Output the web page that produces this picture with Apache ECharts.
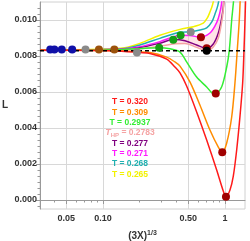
<!DOCTYPE html>
<html><head><meta charset="utf-8">
<script src="https://cdn.jsdelivr.net/npm/echarts@6/dist/echarts.min.js"></script>
<style>html,body{margin:0;padding:0;background:#fff}#c{width:250px;height:241px}</style>
</head><body><div id="c"></div>
<script>
// ---- tick labels ----
const xTickValues = [0.05, 0.1, 0.5, 1];
const xMinorTicks = [0.04, 0.06, 0.07, 0.08, 0.09, 0.2, 0.3, 0.4, 0.6, 0.7, 0.8, 0.9];
const yTickValues = [0, 0.002, 0.004, 0.006, 0.008, 0.010];
const legendTemps = ['0.320', '0.309', '0.2937', '0.2783', '0.277', '0.271', '0.268', '0.265'];

// ---- curves [ (3X)^(1/3), L ] ----
const curveT320 = [[0.0305,0.00832],[0.0945,0.00830],[0.151,0.00825],[0.201,0.00819],[0.243,0.00814],[0.333,0.00783],[0.389,0.00739],[0.428,0.00706],[0.485,0.00633],[0.586,0.00489],[0.708,0.00333],[0.855,0.00167],[0.968,0.00050],[1.019,0.00018],[1.099,0.00056],[1.17,0.00133],[1.247,0.00278],[1.328,0.00467],[1.396,0.0065],[1.432,0.00833],[1.459,0.0100],[1.48,0.0115]];
const curveT309 = [[0.0305,0.00832],[0.0945,0.00831],[0.151,0.00828],[0.243,0.00819],[0.333,0.00794],[0.389,0.00767],[0.428,0.00744],[0.516,0.00656],[0.623,0.00528],[0.753,0.00389],[0.882,0.00294],[0.95,0.00265],[1.033,0.00317],[1.135,0.00461],[1.207,0.0065],[1.261,0.00833],[1.31,0.0100],[1.34,0.0115]];
const curveT2937 = [[0.0305,0.00832],[0.0945,0.00834],[0.151,0.00838],[0.243,0.00844],[0.289,0.00846],[0.354,0.00840],[0.428,0.00822],[0.485,0.00767],[0.586,0.00683],[0.708,0.00628],[0.778,0.00597],[0.84,0.00591],[0.94,0.00629],[1.033,0.00739],[1.085,0.00833],[1.135,0.0100],[1.17,0.0109],[1.2,0.0118]];
const curveTHP = [[0.0305,0.00831],[0.0945,0.00833],[0.151,0.00836],[0.201,0.0084],[0.293,0.00855],[0.389,0.00868],[0.47,0.0087],[0.586,0.00848],[0.708,0.00829],[0.802,0.0085],[0.882,0.009],[0.94,0.00989],[0.968,0.01056],[0.99,0.0115]];
const curveT277 = [[0.0305,0.00832],[0.0945,0.00834],[0.151,0.00838],[0.201,0.00846],[0.293,0.00871],[0.377,0.00891],[0.47,0.00885],[0.586,0.00861],[0.708,0.00843],[0.802,0.00867],[0.882,0.00928],[0.94,0.0101],[0.968,0.01067],[0.99,0.0115]];
const curveT271 = [[0.0305,0.00833],[0.0945,0.00835],[0.151,0.0084],[0.201,0.00852],[0.293,0.0088],[0.433,0.00915],[0.516,0.00914],[0.635,0.00904],[0.753,0.00928],[0.828,0.00967],[0.882,0.0101],[0.925,0.01067],[0.96,0.0115]];
const curveT268 = [[0.0305,0.00833],[0.0945,0.00836],[0.151,0.00842],[0.201,0.00861],[0.293,0.00898],[0.428,0.00932],[0.524,0.00935],[0.623,0.00944],[0.708,0.00956],[0.78,0.00989],[0.828,0.01033],[0.875,0.01083],[0.91,0.0115]];
const curveT265 = [[0.0305,0.00834],[0.0945,0.00838],[0.151,0.00846],[0.201,0.0087],[0.293,0.00915],[0.428,0.00948],[0.55,0.00963],[0.664,0.00983],[0.715,0.0101],[0.753,0.01044],[0.79,0.01083],[0.83,0.0115]];
const dashedLevel = [[0.0305,0.00829],[1.459,0.00829]];

// ---- marked points ----
const dotsBlue = [[0.037,0.00836],[0.040,0.00836],[0.046,0.00836],[0.056,0.00836]];
const dotsGray = [[0.072,0.00836],[0.19,0.0082],[0.524,0.00933]];
const dotsBrown = [[0.0927,0.00836],[0.124,0.00836]];
const dotsGreen = [[0.289,0.00846],[0.377,0.0089],[0.433,0.00915]];
const dotsDarkRed = [[0.635,0.00904],[0.708,0.00843],[0.84,0.00591],[0.95,0.00265],[1.019,0.00018]];
const dotsBlack = [[0.708,0.00829]];

const colors = ['#ff1a1a','#ff8c00','#33ee33','#f5a3a3','#800080','#ff1aff','#1fb0b0','#f2f200'];
const curves = [curveT320, curveT309, curveT2937, curveTHP, curveT277, curveT271, curveT268, curveT265];

// minor y ticks: 5 between each labelled tick
const yMinorTicks = [];
for (let i = 0; i < yTickValues.length; i++) {
  for (let k = -2; k <= 5; k++) {
    if (k === 0) continue;
    const v = yTickValues[i] + k * 0.002 / 6;
    if (v > -0.0005 && v < 0.011 && (k > 0 || i === 0)) yMinorTicks.push(+v.toFixed(6));
  }
}

const series = [];
series.push({
  type: 'custom', clip: true, silent: true, z: 1,
  data: [[0.5, 0.009]],
  renderItem: function (params, api) {
    const low = curveTHP.filter(p => p[0] >= 0.38);
    const high = curveT271.filter(p => p[0] >= 0.38).slice().reverse();
    const pts = low.concat(high).map(p => api.coord(p));
    return { type: 'polygon', shape: { points: pts, smooth: 0.3 }, style: { fill: 'rgba(255,185,195,0.4)' } };
  }
});
const drawOrder = [7, 6, 5, 4, 3, 2, 1, 0];
drawOrder.forEach(i => {
  series.push({
    type: 'line', data: curves[i], symbol: 'none', smooth: 0.3, clip: true, silent: true, z: 2,
    lineStyle: { color: colors[i], width: 1.5 }
  });
});
series.push({ type: 'line', data: dashedLevel, symbol: 'none', z: 3, silent: true,
  lineStyle: { color: '#000', width: 1.5, type: [4, 3] } });
function dots(data, color) {
  return { type: 'scatter', data, symbolSize: 8, z: 4, silent: true, itemStyle: { color, opacity: 1 } };
}
series.push(dots(dotsBlue, '#1010a8'));
series.push(dots(dotsGray, '#8a8a8a'));
series.push(dots(dotsBrown, '#9c520c'));
series.push(dots(dotsGreen, '#159e15'));
series.push(dots(dotsDarkRed, '#a00000'));
series.push(dots(dotsBlack, '#000'));

const legendY = [102, 112.3, 122.6, 133, 143.3, 153.6, 164, 174.3];
const legendFont = 'bold 8.5px "Liberation Sans", Arial, sans-serif';
const graphics = legendTemps.map((t, i) => {
  if (i === 3) {
    return { type: 'text', x: 130, y: legendY[i], z: 10, style: {
      text: '{t|T}{s|HP}{n| = ' + t + '}', align: 'center', verticalAlign: 'middle', fill: colors[i],
      rich: {
        t: { font: 'italic bold 9px "Liberation Sans", Arial, sans-serif', fill: colors[i] },
        s: { font: 'bold 6px "Liberation Sans", Arial, sans-serif', fill: colors[i], padding: [4, 0, 0, 0] },
        n: { font: legendFont, fill: colors[i] }
      } } };
  }
  return { type: 'text', x: 130, y: legendY[i], z: 10, style: {
    text: 'T = ' + t, font: legendFont, fill: colors[i], align: 'center', verticalAlign: 'middle' } };
});

const axisFont = { fontFamily: '"Liberation Sans", Arial, sans-serif', fontWeight: 'bold', fontSize: 9, color: '#333' };
const chart = echarts.init(document.getElementById('c'), null, { renderer: 'canvas' });
chart.setOption({
  animation: false,
  backgroundColor: '#fff',
  grid: { left: 40, right: 5, top: 2, bottom: 32, show: true, borderColor: '#d0d0d0', borderWidth: 1, outerBoundsMode: 'none' },
  xAxis: [{
    type: 'log', logBase: 10, min: 0.0305, max: 1.459,
    name: '{a|(3X)}{b|1/3}', nameLocation: 'middle', nameGap: 21,
    nameTextStyle: { rich: {
      a: { fontFamily: '"Liberation Sans", Arial, sans-serif', fontWeight: 'bold', fontSize: 10, color: '#333' },
      b: { fontFamily: '"Liberation Sans", Arial, sans-serif', fontWeight: 'bold', fontSize: 7, color: '#333', padding: [0, 0, 6, 0] } } },
    axisLine: { show: true, lineStyle: { color: '#999', width: 1 } },
    axisTick: { show: true, customValues: xTickValues, length: 4, lineStyle: { color: '#999' } },
    axisLabel: Object.assign({ customValues: xTickValues, margin: 5,
      formatter: v => (Math.abs(v - 1) < 1e-9 ? '1' : Number(v).toFixed(2)) }, axisFont),
    splitLine: { show: true, lineStyle: { color: '#d8d8d8', width: 1 } }
  }, {
    type: 'log', logBase: 10, min: 0.0305, max: 1.459, position: 'bottom',
    axisLine: { show: false }, axisLabel: { show: false }, splitLine: { show: false },
    axisTick: { show: true, customValues: xMinorTicks, length: 2.5, lineStyle: { color: '#999' } }
  }],
  yAxis: [{
    type: 'value', min: -0.0005, max: 0.011,
    name: 'L', nameLocation: 'middle', nameRotate: 0, nameGap: 32,
    nameTextStyle: { fontFamily: '"Liberation Sans", Arial, sans-serif', fontWeight: 'bold', fontSize: 10, color: '#333' },
    axisLine: { show: true, lineStyle: { color: '#999', width: 1 } },
    axisTick: { show: true, customValues: yTickValues, length: 4, lineStyle: { color: '#999' } },
    axisLabel: Object.assign({ customValues: yTickValues, margin: 3, formatter: v => Number(v).toFixed(3) }, axisFont),
    splitLine: { show: true, lineStyle: { color: '#d8d8d8', width: 1 } }
  }, {
    type: 'value', min: -0.0005, max: 0.011, position: 'left', offset: 0,
    axisLine: { show: false }, axisLabel: { show: false }, splitLine: { show: false },
    axisTick: { show: true, customValues: yMinorTicks, length: 2.5, lineStyle: { color: '#999' } }
  }],
  graphic: graphics,
  series: series
});
</script></body></html>
